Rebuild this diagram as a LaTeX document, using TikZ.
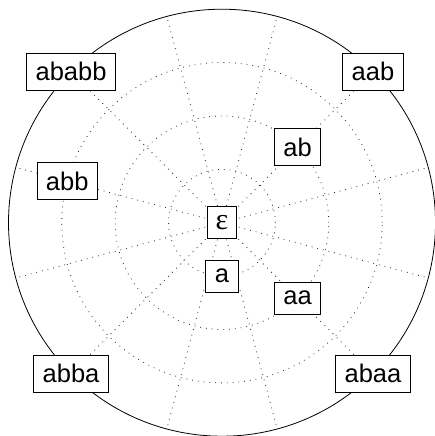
\documentclass[tikz,border=0pt]{standalone}
\usepackage{fontspec}
\setmainfont{Liberation Sans}
\newfontfamily\serifgr{Liberation Serif}
\begin{document}
\begin{tikzpicture}[x=1pt,y=1pt,
  gridline/.style={line width=0.8pt, dash pattern=on 0.8pt off 5pt, black!85},
  wbox/.style={draw, fill=white, line width=0.9pt, inner xsep=9pt, inner ysep=0pt,
               font=\fontsize{25.5}{30}\selectfont},
  boxT/.style={wbox, minimum height=37pt},
  boxS/.style={wbox, minimum height=32pt}]
\useasboundingbox (0,0) rectangle (435,-436);
\coordinate (O) at (222,-222.7);
\foreach \r in {53.4,106.8,160.2} \draw[gridline] (O) circle[radius=\r pt];
\foreach \k in {0,...,11} \draw[gridline] (O) -- ++({15+30*\k}:213.5pt);
\draw[line width=0.8pt] (O) circle[radius=213.5pt];
\node[boxS, inner xsep=8pt, font=\fontsize{30}{34}\selectfont] (eps) at (O) {\serifgr ε};
\node[boxS] (a) at ([shift={(270:53.4pt)}]O) {a};
\node[boxT] (ab) at ([shift={(45:106.8pt)}]O) {ab};
\node[boxS] (aa) at ([shift={(-45:106.8pt)}]O) {aa};
\node[boxT] (abb) at ([shift={(165:160.2pt)}]O) {abb};
\node[boxT] (aab) at ([shift={(45:213.5pt)}]O) {aab};
\node[boxT] (ababb) at ([shift={(135:213.5pt)}]O) {ababb};
\node[boxT] (abba) at ([shift={(225:213.5pt)}]O) {abba};
\node[boxT] (abaa) at ([shift={(315:213.5pt)}]O) {abaa};
\end{tikzpicture}
\end{document}
